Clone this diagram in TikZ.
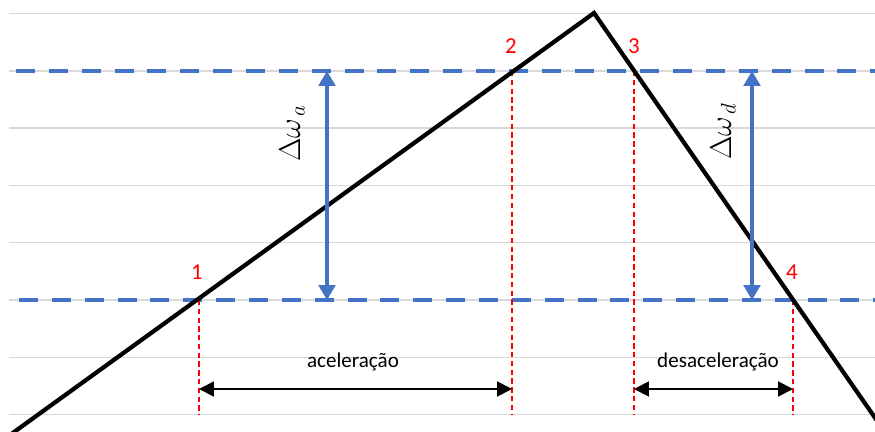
\documentclass[tikz,border=0pt]{standalone}
\usepackage{fontspec}
\setmainfont{Carlito}
\usetikzlibrary{arrows.meta}
\definecolor{gridgray}{HTML}{D9D9D9}
\definecolor{officeblue}{HTML}{4472C4}
\definecolor{markred}{HTML}{FF0000}
\tikzset{
  gridline/.style={gridgray, line width=0.8pt},
  levelline/.style={officeblue, line width=2.3pt, dash pattern=on 10.8pt off 7.9pt},
  speedline/.style={black, line width=2.4pt},
  dropline/.style={markred, line width=0.7pt, dash pattern=on 3pt off 2pt},
  deltaarrow/.style={officeblue, line width=1.8pt, {Triangle[length=8.5pt,width=9.5pt]}-{Triangle[length=8.5pt,width=9.5pt]}},
  spanarrow/.style={black, line width=1.1pt, {Triangle[length=8.5pt,width=8.5pt]}-{Triangle[length=8.5pt,width=8.5pt]}},
  pointlabel/.style={markred, font=\fontsize{13}{15}\selectfont},
  spanlabel/.style={font=\fontsize{12}{14}\selectfont},
  deltalabel/.style={rotate=90, font=\fontsize{17}{20}\selectfont}
}

\begin{document}
\begin{tikzpicture}[x=0.02cm, y=-0.02cm]
\useasboundingbox (0,0) rectangle (875,432);
\clip (0,0) rectangle (875,432);
\foreach \k in {0,...,7}
  \draw[gridline] (9,{13.5+57.3*\k}) -- (875,{13.5+57.3*\k});

\coordinate (p1) at (199,300);
\coordinate (p2) at (512,71);
\coordinate (p3) at (634,71);
\coordinate (p4) at (793,300);
\coordinate (peak) at (594,13);
\coordinate (start) at (12,433.5);
\coordinate (finish) at (880,425);
\coordinate (hiL) at (16,71);
\coordinate (hiR) at (875,71);
\coordinate (loL) at (19,300);
\coordinate (loR) at (875,300);
\coordinate (base) at (0,415);
\coordinate (span) at (0,389);
\coordinate (dAtop) at (327,71);
\coordinate (dAbot) at (327,300);
\coordinate (dDtop) at (752,71);
\coordinate (dDbot) at (752,300);

\draw[levelline] (hiL) -- (hiR);
\draw[levelline] (loL) -- (loR);

\draw[dropline] (p1) -- (p1 |- base);
\draw[dropline] (p2) -- (p2 |- base);
\draw[dropline] (p3) -- (p3 |- base);
\draw[dropline] (p4) -- (p4 |- base);

\draw[speedline] (start) -- (peak) -- (finish);

\draw[deltaarrow] (dAtop) -- (dAbot);
\draw[deltaarrow] (dDtop) -- (dDbot);
\draw[spanarrow] (p1 |- span) -- (p2 |- span);
\draw[spanarrow] (p3 |- span) -- (p4 |- span);

\node[pointlabel] (n1) at (197,272) {1};
\node[pointlabel] (n2) at (511,46) {2};
\node[pointlabel] (n3) at (634,46) {3};
\node[pointlabel] (n4) at (792,272) {4};

\node[deltalabel] (dwa) at (292,133) {$\Delta\omega_{\,a}$};
\node[deltalabel] (dwd) at (723,131) {$\Delta\omega_{\,d}$};

\node[spanlabel] (acc) at (353,362) {aceleração};
\node[spanlabel] (dec) at (718,362) {desaceleração};
\end{tikzpicture}
\end{document}
